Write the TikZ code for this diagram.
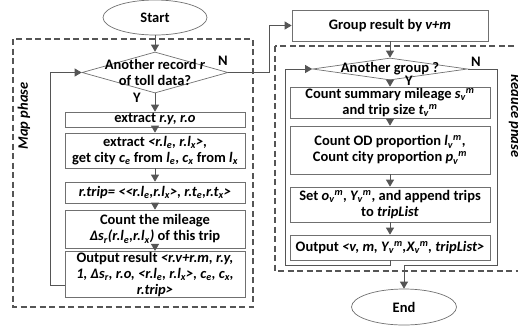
\documentclass[tikz,border=0pt]{standalone}
\usepackage{fontspec}
\setmainfont{Carlito}
\usetikzlibrary{shapes.geometric,arrows.meta}
\definecolor{boxgray}{HTML}{707070}
\definecolor{arrowgray}{HTML}{555555}
\definecolor{dashgray}{HTML}{555555}
\newcommand{\sbs}[1]{\textsubscript{#1}}
\newcommand{\vm}[1]{#1\textsubscript{v}\textsuperscript{m}}
\tikzset{
  txt/.style={font=\bfseries\fontsize{14.5}{16}\selectfont, align=center, text=black, inner sep=0pt},
  procbox/.style={txt, draw=boxgray, line width=0.7pt, inner sep=1pt},
  term/.style={txt, draw=boxgray, line width=0.7pt, ellipse, inner sep=0pt},
  dec/.style={draw=boxgray, line width=0.7pt, diamond, inner sep=0pt},
  flow/.style={draw=arrowgray, line width=0.9pt, -{Triangle[length=7pt,width=8pt]}},
  phase/.style={draw=dashgray, line width=1.6pt, dash pattern=on 6pt off 3.5pt},
  phaselbl/.style={font=\bfseries\itshape\fontsize{14.5}{16}\selectfont, text=black, inner sep=0pt}
}
\begin{document}
\begin{tikzpicture}[x=1pt,y=-1pt]
\useasboundingbox (0,0) rectangle (518,325);

\draw[phase] (13,39) rectangle (253,307);
\draw[phase] (275,46) rectangle (540,271);
\node[phaselbl, rotate=90] (maplbl) at (24,116) {Map phase};
\node[phaselbl, rotate=-90] (redlbl) at (515,116) {Reduce phase};

\begin{scope}
\node[term, minimum width=104pt, minimum height=35pt] (start) at (155,17.5) {Start};
\node[dec, minimum width=146pt, minimum height=41pt] (mdec) at (155,72.5) {};
\node[txt] (mdectxt) at (mdec) {Another record \textit{r}\\of toll data?};
\node[procbox, minimum width=180pt, minimum height=15pt] (mb1) at (155,119.5) {extract \textit{r.y, r.o}};
\node[procbox, minimum width=180pt, minimum height=35pt] (mb2) at (155,150.5) {extract \textit{<r.l\sbs{e}, r.l\sbs{x}>},\\get city \textit{c\sbs{e}} from \textit{l\sbs{e}}, \textit{c\sbs{x}} from \textit{l\sbs{x}}};
\node[procbox, minimum width=180pt, minimum height=21pt] (mb3) at (155,192.5) {\textit{r.trip= <{}<r.l\sbs{e},r.l\sbs{x}>, r.t\sbs{e},r.t\sbs{x}>}};
\node[procbox, minimum width=180pt, minimum height=38pt] (mb4) at (155,229) {Count the mileage\\\textit{Δs\sbs{r}(r.l\sbs{e},r.l\sbs{x})} of this trip};
\node[procbox, minimum width=180pt, minimum height=45pt] (mb5) at (155,274.5) {Output result \textit{<r.v+r.m, r.y,}\\\textit{1, Δs\sbs{r}, r.o, <r.l\sbs{e}, r.l\sbs{x}>, c\sbs{e}, c\sbs{x},}\\\textit{r.trip>}};
\node[txt] (mN) at (223,61) {N};
\node[txt] (mY) at (137,98) {Y};
\draw[flow] (start) -- (mdec);
\draw[flow] (mdec) -- (mb1);
\draw[flow] (mb1) -- (mb2);
\draw[flow] (mb2) -- (mb3);
\draw[flow] (mb3) -- (mb4);
\draw[flow] (mb4) -- (mb5);
\coordinate (mloop) at (50,285);
\draw[flow] (mb5.west |- mloop) -- (mloop) |- (mdec.west);
\end{scope}

\begin{scope}
\node[procbox, minimum width=196pt, minimum height=31pt] (group) at (390,25.5) {Group result by \textit{v+m}};
\node[dec, minimum width=155pt, minimum height=22pt] (rdec) at (390,69) {};
\node[txt] (rdectxt) at (rdec) {Another group ?};
\node[procbox, minimum width=200pt, minimum height=31pt] (rb1) at (390,102.5) {Count summary mileage \textit{\vm{s}}\\and trip size \textit{\vm{t}}};
\node[procbox, minimum width=200pt, minimum height=48pt] (rb2) at (390,150) {Count OD proportion \textit{\vm{l}},\\Count city proportion \textit{\vm{p}}};
\node[procbox, minimum width=200pt, minimum height=35pt] (rb3) at (390,204.5) {Set \textit{\vm{o}}, \textit{\vm{Y}}, and append trips\\to \textit{tripList}};
\node[procbox, minimum width=200pt, minimum height=25pt] (rb4) at (390,247.5) {Output \textit{<v, m, \vm{Y},\vm{X}, tripList>}};
\node[term, minimum width=105pt, minimum height=36pt] (end) at (404,307) {End};
\node[txt] (rN) at (476,62) {N};
\node[txt] (rY) at (409,80.5) {Y};
\draw[flow] (group) -- (rdec);
\draw[flow] (rdec) -- (rb1);
\draw[flow] (rb1) -- (rb2);
\draw[flow] (rb2) -- (rb3);
\draw[flow] (rb3) -- (rb4);
\coordinate (rloop) at (285,265);
\draw[flow] (rb4.south) |- (rloop) |- (rdec.west);
\coordinate (rright) at (497,265);
\coordinate (rexit) at (404,265);
\draw[flow] (rdec.east) -| (rright) -- (rexit) -- (end);
\end{scope}

\coordinate (mexit) at (269,72.5);
\draw[flow] (mdec.east) -- (mexit) |- (group.west);
\end{tikzpicture}
\end{document}
